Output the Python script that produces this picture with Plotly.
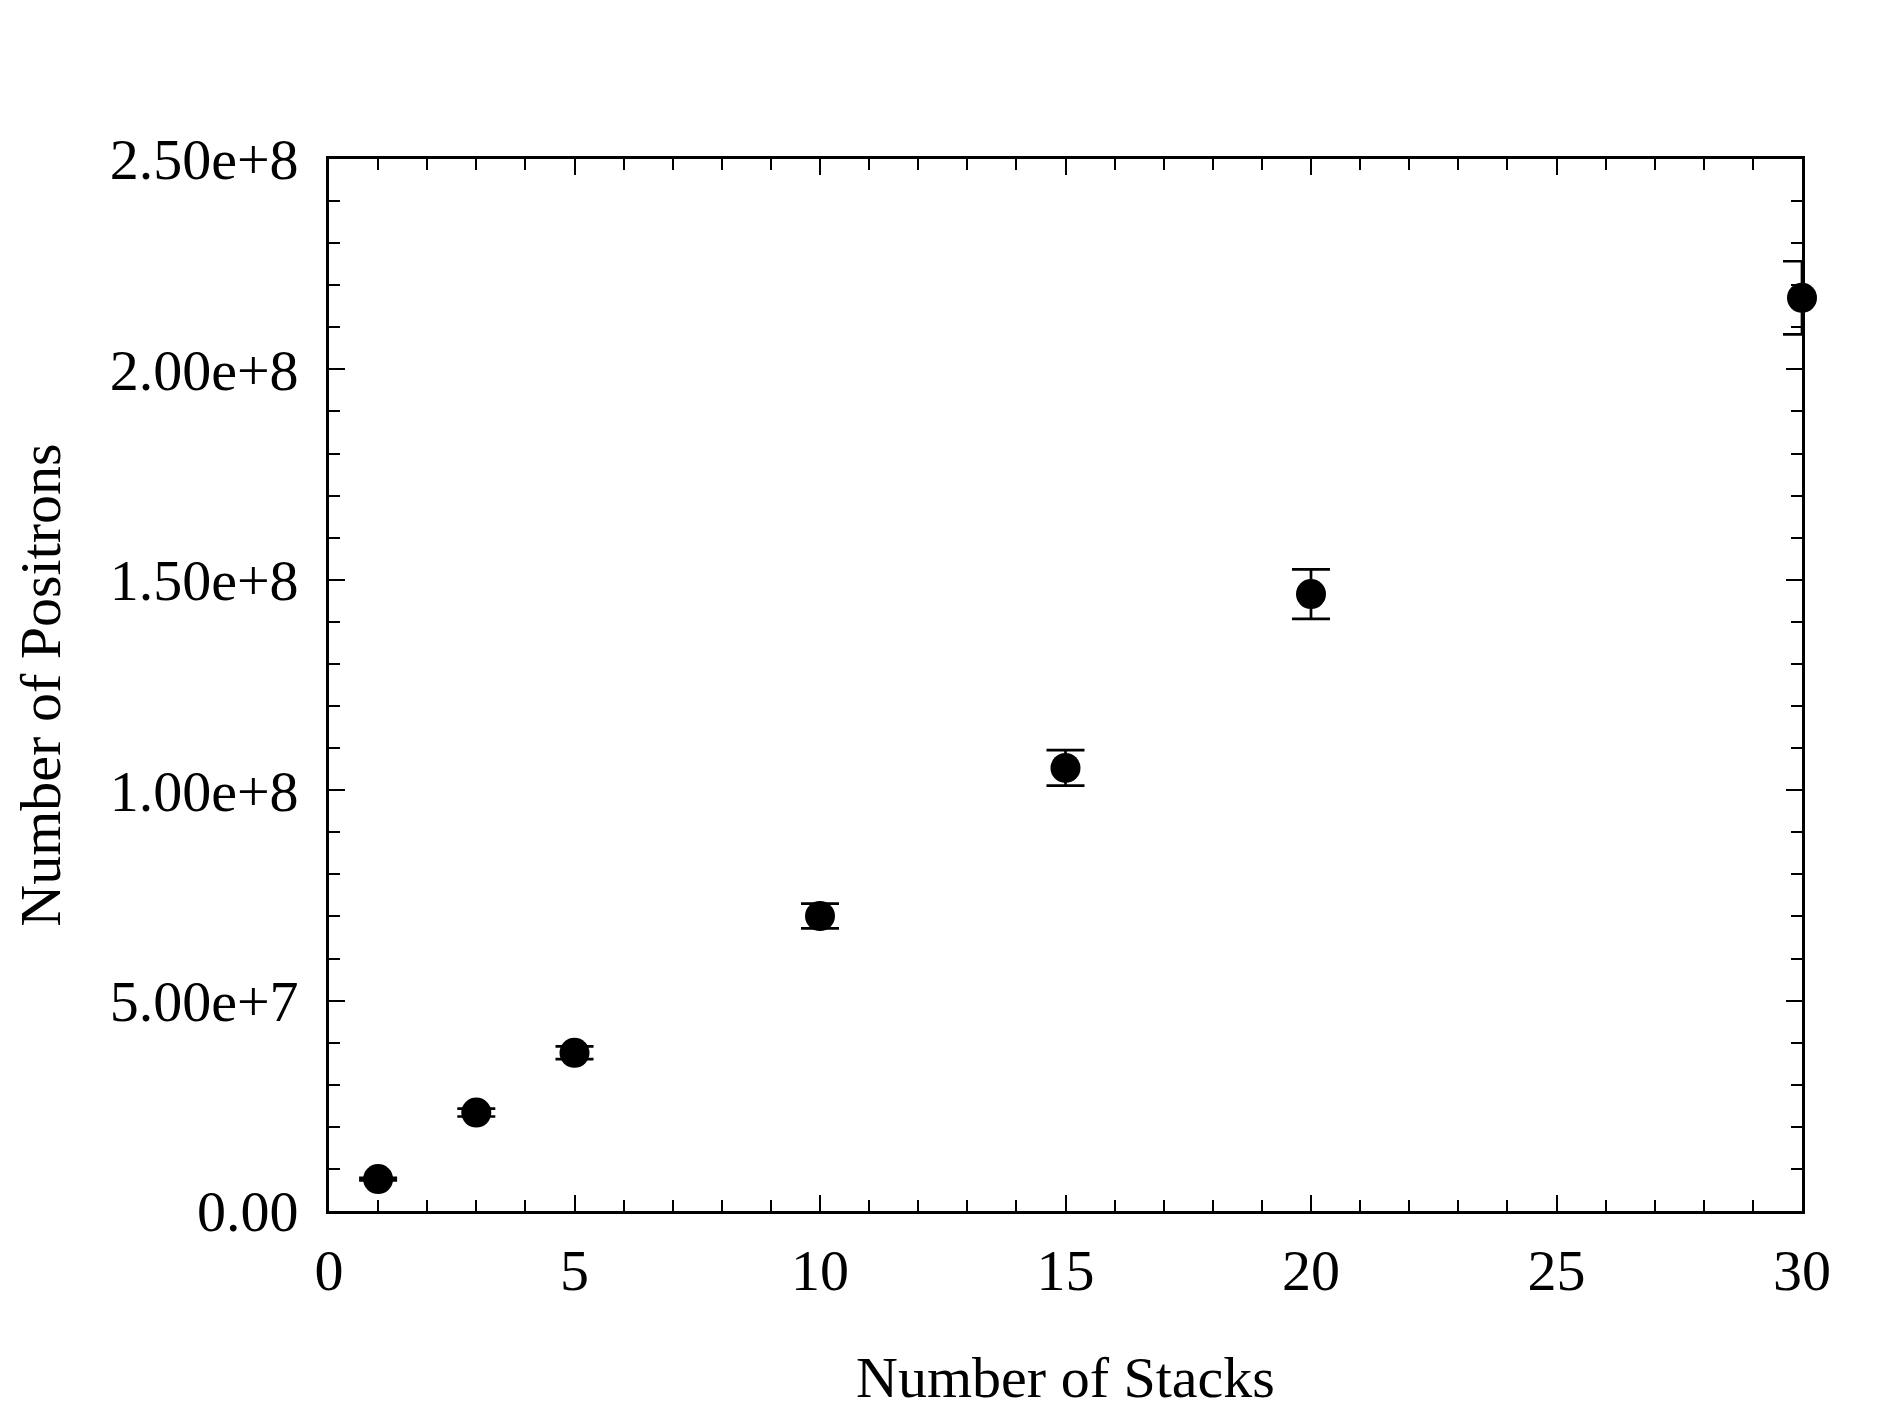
import plotly.graph_objects as go

# number of stacks vs positrons collected
stacks = [1, 3, 5, 10, 15, 20, 30]
positrons = [7.6e6, 2.34e7, 3.76e7, 7.01e7, 1.053e8, 1.466e8, 2.17e8]
errors = [0.3e6, 0.94e6, 1.5e6, 2.95e6, 4.2e6, 5.9e6, 8.7e6]

ytick_vals = [0, 5e7, 1e8, 1.5e8, 2e8, 2.5e8]
ytick_text = ["0.00", "5.00e+7", "1.00e+8", "1.50e+8", "2.00e+8", "2.50e+8"]

font = dict(family="Liberation Serif, Times New Roman, serif", size=58, color="black")

fig = go.Figure(go.Scatter(
    x=stacks, y=positrons,
    mode="markers",
    marker=dict(color="black", size=30),
    error_y=dict(type="data", array=errors, color="black", thickness=2.7, width=19),
    cliponaxis=False,
    showlegend=False,
))

axis_common = dict(
    showline=True, linecolor="black", linewidth=2.6, mirror="allticks",
    ticks="inside", tickwidth=2.4, ticklen=16, tickcolor="black",
    showgrid=False, zeroline=False, tickfont=font,
)

fig.update_xaxes(
    range=[0, 30], tick0=0, dtick=5,
    minor=dict(ticks="inside", ticklen=11, tickwidth=2.4, tickcolor="black", dtick=1, showgrid=False),
    title=dict(text="Number of Stacks", font=font, standoff=54),
    ticklabelstandoff=7,
    **axis_common,
)
fig.update_yaxes(
    range=[0, 2.5e8], tickvals=ytick_vals, ticktext=ytick_text,
    minor=dict(ticks="inside", ticklen=11, tickwidth=2.4, tickcolor="black", dtick=1e7, showgrid=False),
    title=dict(text="Number of Positrons", font=font, standoff=38),
    ticklabelstandoff=16,
    **axis_common,
)

fig.update_layout(
    width=1884, height=1416,
    margin=dict(l=321, r=90, t=151, b=213),
    plot_bgcolor="white", paper_bgcolor="white",
    font=font,
)

fig.write_html("out.html")
